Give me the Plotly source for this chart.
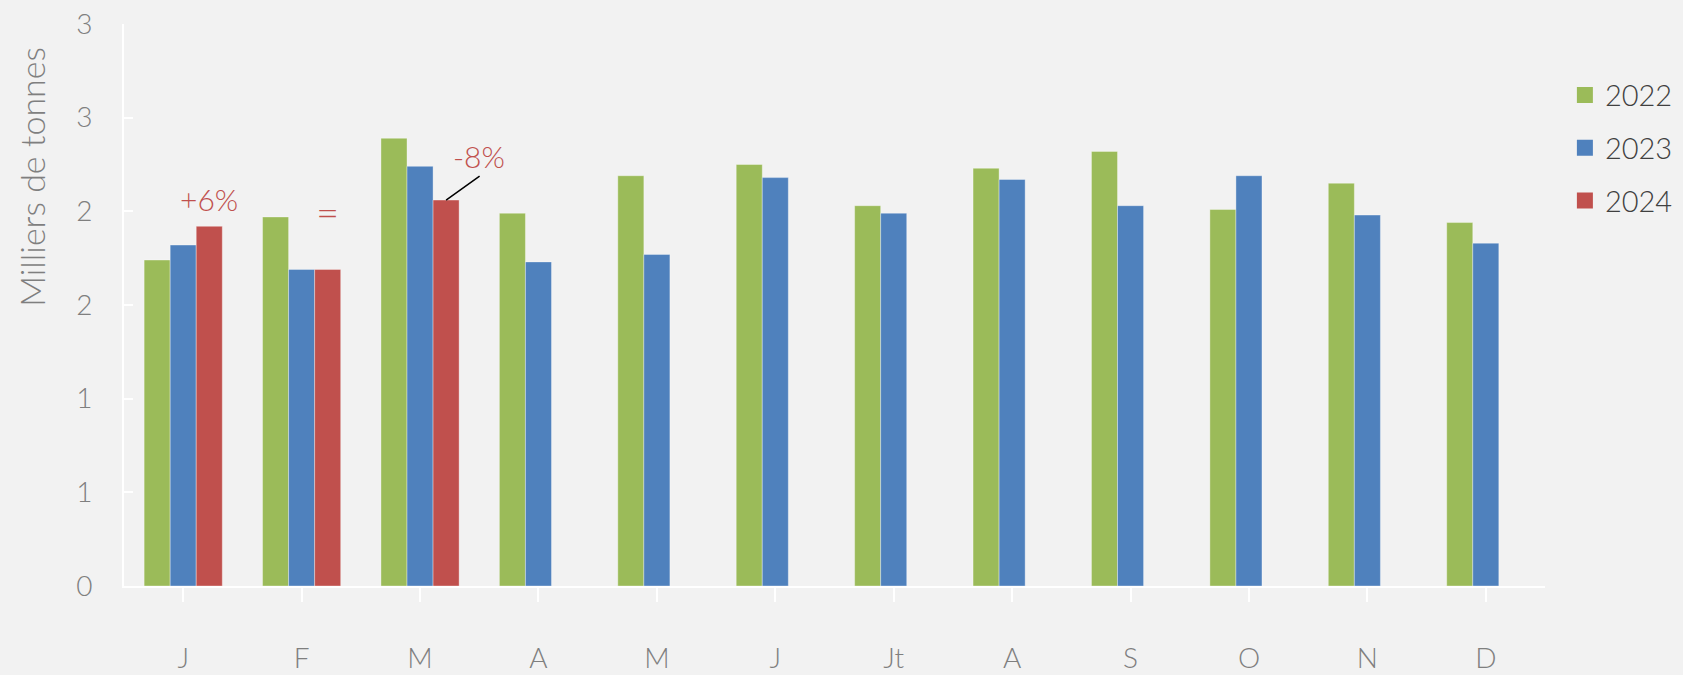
import plotly.graph_objects as go

months = ["J", "F", "M", "A", "M", "J", "Jt", "A", "S", "O", "N", "D"]
v2022 = [1.74, 1.97, 2.39, 1.99, 2.19, 2.25, 2.03, 2.23, 2.32, 2.01, 2.15, 1.94]
v2023 = [1.82, 1.69, 2.24, 1.73, 1.77, 2.18, 1.99, 2.17, 2.03, 2.19, 1.98, 1.83]
v2024 = [1.92, 1.69, 2.06, None, None, None, None, None, None, None, None, None]
ytickvals = [0, 0.5, 1, 1.5, 2, 2.5, 3]
yticktext = ["0", "1", "1", "2", "2", "3", "3"]
labels2024 = ["+6%", "=", "-8%"]

FONT = "Lato"
W = 300
x = list(range(len(months)))

fig = go.Figure()
series = [("2022", v2022, "#9bbb59"), ("2023", v2023, "#4f81bd"), ("2024", v2024, "#c0504d")]
for name, vals, col in series:
    fig.add_trace(go.Bar(
        x=x, y=vals, name=name, legendgroup=name, showlegend=False,
        marker=dict(color=col, line=dict(color="rgba(255,255,255,0.35)", width=1)),
    ))
# legend entries with larger square symbols
for name, vals, col in series:
    fig.add_trace(go.Scatter(
        x=[None], y=[None], mode="markers", name=name, legendgroup=name,
        marker=dict(symbol="square", size=16, color=col),
    ))

bargap = 0.34
slot = (1 - bargap) / 3
red_font = dict(size=30, color="#c0504d", family=FONT, weight=W)
fig.add_annotation(x=0 + slot, y=v2024[0], text=labels2024[0], showarrow=False,
                   yanchor="bottom", yshift=7, font=red_font)
fig.add_annotation(x=1 + slot, y=v2024[1], text=labels2024[1], showarrow=False,
                   yanchor="bottom", yshift=31, font=dict(size=40, color="#c0504d", family=FONT, weight=W))
fig.add_annotation(x=2 + slot, y=v2024[2], text=labels2024[2], showarrow=False,
                   xshift=33, yshift=44, font=red_font)
fig.add_annotation(x=2 + slot, y=v2024[2], text="", showarrow=True,
                   arrowhead=0, arrowwidth=1.5, arrowcolor="#000000", ax=35, ay=-25,
                   standoff=0)

# y-axis title (shifted up as in reference)
fig.add_annotation(xref="paper", yref="paper", x=0, xshift=-92, y=0.728,
                   xanchor="center", yanchor="middle",
                   text="Milliers de tonnes", textangle=-90, showarrow=False,
                   font=dict(size=34, color="#7f7f7f", family=FONT, weight=W))

fig.update_layout(
    width=1683, height=675,
    paper_bgcolor="#f2f2f2", plot_bgcolor="#f2f2f2",
    margin=dict(l=124, r=138, t=24, b=89, autoexpand=False),
    barmode="group", bargap=bargap, bargroupgap=0,
    font=dict(family=FONT, color="#7f7f7f", weight=W),
    showlegend=True,
    legend=dict(x=1.014, y=0.779, xanchor="left", yanchor="middle",
                font=dict(size=29, color="#404040", family=FONT, weight=W),
                tracegroupgap=12, bgcolor="rgba(0,0,0,0)", itemsizing="trace"),
    xaxis=dict(
        tickmode="array", tickvals=x, ticktext=months, automargin=False,
        range=[-0.5, 11.5], showgrid=False, zeroline=False,
        showline=True, linecolor="#ffffff", linewidth=2,
        ticks="outside", tickson="boundaries", ticklen=14, tickcolor="#ffffff", tickwidth=2,
        tickfont=dict(size=28, color="#7f7f7f", family=FONT, weight=W),
        ticklabelstandoff=32,
    ),
    yaxis=dict(
        range=[0, 3], tickmode="array", tickvals=ytickvals, ticktext=yticktext,
        automargin=False, showgrid=False, zeroline=False,
        showline=True, linecolor="#ffffff", linewidth=2,
        ticks="inside", ticklen=9, tickcolor="#ffffff", tickwidth=2,
        tickfont=dict(size=28, color="#7f7f7f", family=FONT, weight=W),
        ticklabelstandoff=24,
    ),
)

fig.write_html("out.html", config={"displayModeBar": False},
               post_script="document.body.style.margin='0';")
